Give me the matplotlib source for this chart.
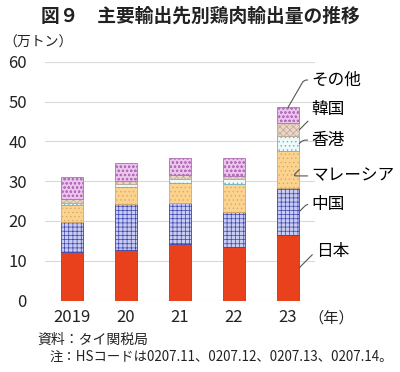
import numpy as np
import matplotlib
matplotlib.use("Agg")
import matplotlib.pyplot as plt

plt.rcParams["font.family"] = ["Noto Sans CJK JP", "DejaVu Sans"]
plt.rcParams["hatch.linewidth"] = 0.5

# data (万トン)
years = ["2019", "20", "21", "22", "23"]
japan = [12.1, 12.7, 14.1, 13.4, 16.5]
china = [7.7, 11.5, 10.5, 8.8, 11.7]
malaysia = [4.1, 4.3, 4.8, 7.0, 9.4]
hongkong = [0.7, 0.8, 1.2, 1.3, 3.7]
korea = [0.8, 0.8, 0.9, 0.9, 3.2]
other = [5.6, 4.4, 4.4, 4.3, 4.0]

series = [
    ("日本", japan, "#E8411C", "#B03A20", None),
    ("中国", china, "#C9CCF2", "#3C44B0", "++++"),
    ("マレーシア", malaysia, "#FBD38E", "#D6AA6A", "...."),
    ("香港", hongkong, "#EEFAFA", "#6AB4BC", "...."),
    ("韓国", korea, "#EBD6C6", "#BCA698", "xxxxx"),
    ("その他", other, "#EDC4ED", "#B070B8", "oooo"),
]
# label heights (in data units) for the labels right of the last bar
label_y = [12.2, 24.2, 31.3, 40.3, 47.9, 55.4]

fig = plt.figure(figsize=(4.0, 3.72), dpi=100)
ax = fig.add_axes([45 / 400, 1 - 300.5 / 372, 270 / 400, 238.8 / 372])

x = np.arange(len(years))
width = 0.42
bottom = np.zeros(len(years))
tops = []
for name, vals, fc, ec, hatch in series:
    vals = np.array(vals)
    ax.bar(x, vals, width, bottom=bottom, color=fc, edgecolor=ec,
           linewidth=0.6, hatch=hatch, zorder=3)
    tops.append((bottom[-1], bottom[-1] + vals[-1]))
    bottom = bottom + vals

# leader labels on the 2023 bar
for i, (name, vals, fc, ec, hatch) in enumerate(series):
    lo, hi = tops[i]
    if name == "その他":
        xy = (x[-1], hi)
        angB = 60
    else:
        xy = (x[-1] + width / 2, (lo + hi) / 2)
        angB = 45
    ax.annotate(name, xy=xy, xytext=(x[-1] + 0.44 + (0.08 if name == "日本" else 0), label_y[i]),
                fontsize=12, ha="left", va="center", annotation_clip=False,
                arrowprops=dict(arrowstyle="-", color="#555555", lw=0.8,
                                shrinkA=1, shrinkB=0, relpos=(0, 0.5),
                                connectionstyle=f"angle,angleA=0,angleB={angB},rad=3"))

ax.set_ylim(0, 60)
ax.set_xlim(-0.5, 4.5)
ax.set_yticks(range(0, 61, 10))
ax.set_xticks(x)
ax.set_xticklabels(years)
ax.tick_params(axis="both", length=0, labelsize=12, colors="#222222")
ax.tick_params(axis="y", pad=13)
ax.tick_params(axis="x", pad=6)
ax.grid(axis="y", color="#DADADA", lw=0.8, zorder=0)
for s in ax.spines.values():
    s.set_visible(False)

fig.text(0.5, 1 - 16 / 372, "図９　主要輸出先別鶏肉輸出量の推移", ha="center", va="center",
         fontsize=13.5, fontweight="bold", color="#222222")
fig.text(3 / 400, 1 - 43 / 372, "（万トン）", ha="left", va="center", fontsize=10, color="#222222")
fig.text(308 / 400, 1 - 318 / 372, "（年）", ha="left", va="center", fontsize=11, color="#222222")
fig.text(37 / 400, 1 - 340 / 372, "資料：タイ関税局", ha="left", va="center", fontsize=10, color="#222222")
fig.text(50 / 400, 1 - 357 / 372, "注：HSコードは0207.11、0207.12、0207.13、0207.14。",
         ha="left", va="center", fontsize=9.6, color="#222222")

fig.savefig("out.png", dpi=100)
